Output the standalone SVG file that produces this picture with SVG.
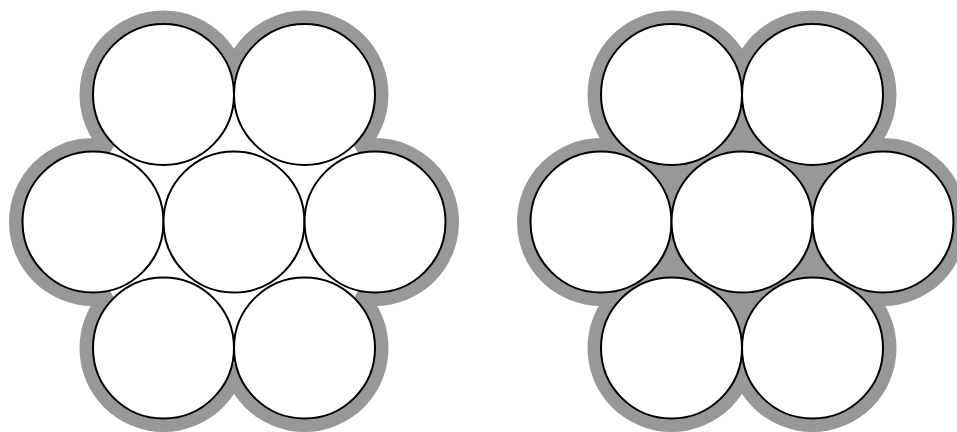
<svg xmlns="http://www.w3.org/2000/svg" width="957" height="432" viewBox="0 0 957 432">
  <style>
    .jacket { fill: #989898; stroke: none; }
    .clear { fill: #ffffff; stroke: none; }
    .wire { fill: #ffffff; stroke: #000000; stroke-width: 2; }
  </style>
  <rect x="0" y="0" width="957" height="432" fill="#ffffff"/>

  <g id="strand-left">
    <g id="left-jacket">
      <circle class="jacket" cx="163.5" cy="94.5" r="84"/>
      <circle class="jacket" cx="304.5" cy="94.5" r="84"/>
      <circle class="jacket" cx="93" cy="222" r="84"/>
      <circle class="jacket" cx="375" cy="222" r="84"/>
      <circle class="jacket" cx="163.5" cy="348" r="84"/>
      <circle class="jacket" cx="304.5" cy="348" r="84"/>
      <circle class="clear" cx="234" cy="222" r="142"/>
    </g>
    <g id="left-wire-1"><circle class="wire" cx="163.5" cy="94.5" r="70.5"/></g>
    <g id="left-wire-2"><circle class="wire" cx="304.5" cy="94.5" r="70.5"/></g>
    <g id="left-wire-3"><circle class="wire" cx="93" cy="222" r="70.5"/></g>
    <g id="left-wire-4"><circle class="wire" cx="234" cy="222" r="70.5"/></g>
    <g id="left-wire-5"><circle class="wire" cx="375" cy="222" r="70.5"/></g>
    <g id="left-wire-6"><circle class="wire" cx="163.5" cy="348" r="70.5"/></g>
    <g id="left-wire-7"><circle class="wire" cx="304.5" cy="348" r="70.5"/></g>
  </g>

  <g id="strand-right">
    <g id="right-jacket">
      <circle class="jacket" cx="671.5" cy="94.5" r="84"/>
      <circle class="jacket" cx="812.5" cy="94.5" r="84"/>
      <circle class="jacket" cx="601" cy="222" r="84"/>
      <circle class="jacket" cx="883" cy="222" r="84"/>
      <circle class="jacket" cx="671.5" cy="348" r="84"/>
      <circle class="jacket" cx="812.5" cy="348" r="84"/>
      <circle class="jacket" cx="742" cy="222" r="142"/>
    </g>
    <g id="right-wire-1"><circle class="wire" cx="671.5" cy="94.5" r="70.5"/></g>
    <g id="right-wire-2"><circle class="wire" cx="812.5" cy="94.5" r="70.5"/></g>
    <g id="right-wire-3"><circle class="wire" cx="601" cy="222" r="70.5"/></g>
    <g id="right-wire-4"><circle class="wire" cx="742" cy="222" r="70.5"/></g>
    <g id="right-wire-5"><circle class="wire" cx="883" cy="222" r="70.5"/></g>
    <g id="right-wire-6"><circle class="wire" cx="671.5" cy="348" r="70.5"/></g>
    <g id="right-wire-7"><circle class="wire" cx="812.5" cy="348" r="70.5"/></g>
  </g>

  <g id="connectors"/>
</svg>
